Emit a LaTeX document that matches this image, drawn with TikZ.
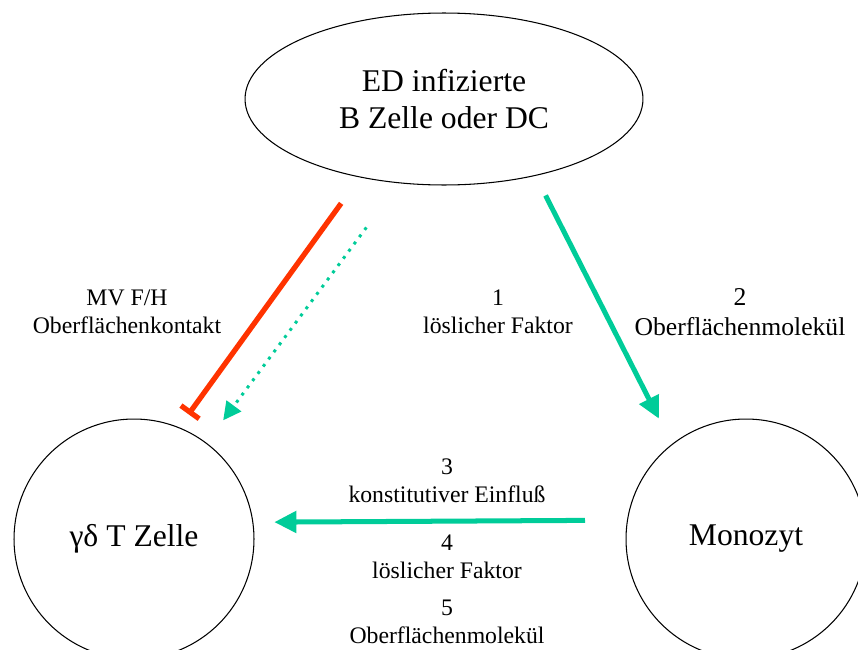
\documentclass[tikz,border=0pt]{standalone}
\usepackage{fontspec}
\setmainfont{Liberation Serif}
\usetikzlibrary{shapes.geometric,arrows.meta}
\definecolor{tealgreen}{HTML}{00CC99}
\definecolor{inhibred}{HTML}{FF3300}

\begin{document}
\begin{tikzpicture}[x=0.02cm, y=-0.02cm]
    \tikzstyle{cell} = [circle, draw, line width=0.6pt, minimum size=4.8cm, inner sep=0pt, font=\fontsize{18}{21}\selectfont]
    \tikzstyle{infected} = [ellipse, draw, line width=0.6pt, minimum width=7.96cm, minimum height=3.44cm, inner sep=0pt, align=center, font=\fontsize{18}{21}\selectfont]
    \tikzstyle{note} = [align=center, inner sep=0pt, font=\fontsize{13.5}{16.2}\selectfont]
    \tikzstyle{arrow} = [line width=2.85pt, tealgreen, -{Triangle[length=0.44cm, width=0.42cm]}]
    \tikzstyle{dotarrow} = [line width=1.7pt, tealgreen, dash pattern=on 1.7pt off 3.4pt, -{Triangle[length=0.36cm, width=0.36cm]}]
    \tikzstyle{inhibit} = [line width=3pt, inhibred, -{Bar[width=0.45cm]}]

    \useasboundingbox (0,0) rectangle (858,649);

    \node (ed) [infected] at (444,99) {ED infizierte\\B Zelle oder DC};
    \node (tz) [cell] at (134,539) {γδ T Zelle};
    \node (mono) [cell] at (746,539) {Monozyt};

    \node (mvfh) [note] at (127,312) {MV F/H\\Oberflächenkontakt};
    \node (sol1) [note] at (498,312) {1\\löslicher Faktor};
    \node (surf2) [note, font=\fontsize{14.6}{16.8}\selectfont] at (740,312) {2\\Oberflächenmolekül};
    \node (const3) [note] at (447,481) {3\\konstitutiver Einfluß};
    \node (sol4) [note] at (447,557) {4\\löslicher Faktor};
    \node (surf5) [note] at (447,622) {5\\Oberflächenmolekül};

    \draw [inhibit, shorten <=0.64cm, shorten >=0.32cm] (ed.223.6) -- (tz.68.5);
    \draw [dotarrow, shorten <=1.1cm, shorten >=0.56cm] (ed.242.3) -- (tz.53.5);
    \draw [arrow, shorten <=0.44cm, shorten >=0.57cm] (ed.320.1) -- (mono.128.7);
    \draw [arrow, shorten <=0.84cm, shorten >=0.42cm] (mono.171.4) -- (tz.8.55);
\end{tikzpicture}
\end{document}
